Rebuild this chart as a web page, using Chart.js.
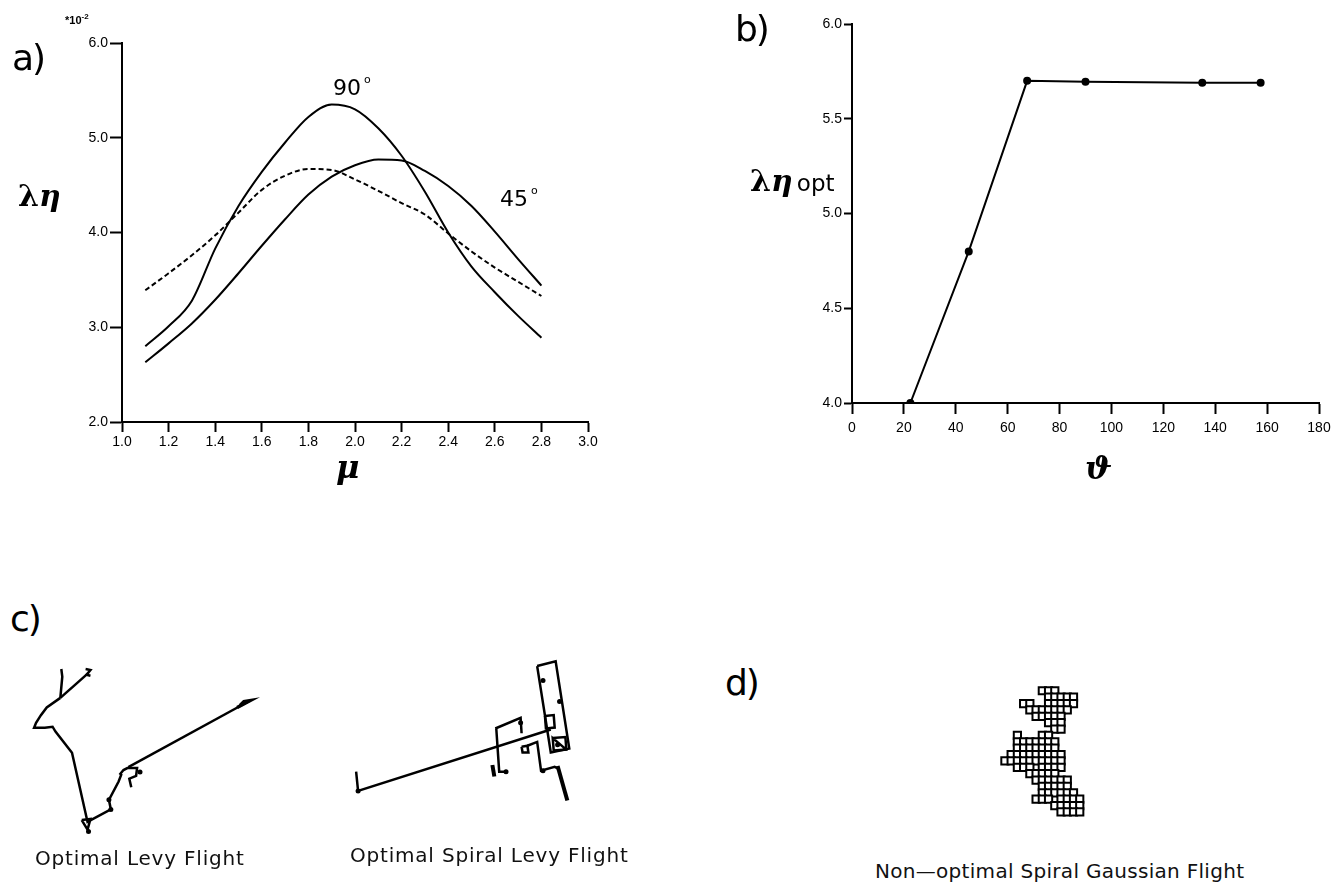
<!DOCTYPE html>
<html>
<head>
<meta charset="utf-8">
<script src="https://cdn.jsdelivr.net/npm/chart.js@4.4.1/dist/chart.umd.min.js"></script>
<style>
  html, body { margin: 0; padding: 0; background: #fff; }
  #page { position: relative; width: 1344px; height: 887px; overflow: hidden; background: #fff; }
  canvas { position: absolute; }
  .txt { position: absolute; line-height: 1; white-space: nowrap; color: #000; }
  .panel { font-family: 'DejaVu Sans', sans-serif; font-size: 36px; letter-spacing: -2px; }
  .greek { font-family: 'DejaVu Serif', serif; font-weight: bold; font-size: 30px; }
  .greek i { font-style: italic; }
  .axsym { font-family: 'DejaVu Serif', serif; font-weight: bold; font-style: italic; font-size: 32px; }
  .angle { font-family: 'DejaVu Sans', sans-serif; font-size: 22px; }
  .angle sup { font-size: 11px; vertical-align: 12px; margin-left: 3px; }
  .caption { font-family: 'DejaVu Sans', sans-serif; font-size: 20px; letter-spacing: 0.8px; color: #111; }
</style>
</head>
<body>
<div id="page">
  <canvas id="chartA" width="620" height="470" style="left:0;top:0"></canvas>
  <canvas id="chartB" width="664" height="450" style="left:680px;top:0"></canvas>
  <canvas id="chartLevy" width="280" height="210" style="left:0;top:640px"></canvas>
  <canvas id="chartSpiral" width="300" height="200" style="left:320px;top:640px"></canvas>
  <canvas id="chartGauss" width="130" height="160" style="left:980px;top:670px"></canvas>

  <div class="txt panel" style="left:12px;top:40px">a)</div>
  <div class="txt" style="left:65px;top:12px;font:bold 11px 'Liberation Sans',sans-serif">*10<sup style="font-size:8px">-2</sup></div>
  <div class="txt greek" style="left:18px;top:181px">λ<i>η</i></div>
  <div class="txt axsym" style="left:336px;top:451px">μ</div>
  <div class="txt angle" style="left:333px;top:74px">90<sup>o</sup></div>
  <div class="txt angle" style="left:500px;top:185px">45<sup>o</sup></div>

  <div class="txt panel" style="left:735px;top:11px">b)</div>
  <div class="txt greek" style="left:750px;top:166px">λ<i>η</i><span style="font:23px 'DejaVu Sans',sans-serif;margin-left:4px">opt</span></div>
  <div class="txt axsym" style="left:1085px;top:452px">ϑ</div>

  <div class="txt panel" style="left:10px;top:601px">c)</div>
  <div class="txt panel" style="left:725px;top:665px">d)</div>
  <div class="txt caption" style="left:35px;top:848px">Optimal Levy Flight</div>
  <div class="txt caption" style="left:350px;top:845px">Optimal Spiral Levy Flight</div>
  <div class="txt caption" style="left:875px;top:861px;letter-spacing:0.3px">Non—optimal Spiral Gaussian Flight</div>
</div>

<script>
// panel a: efficiency vs Levy exponent
const MU = [1.1, 1.2, 1.3, 1.4, 1.5, 1.6, 1.7, 1.8, 1.9, 2.0, 2.1, 2.2, 2.3, 2.4, 2.5, 2.6, 2.7, 2.8];
const ETA_90 = [2.80, 3.01, 3.28, 3.83, 4.28, 4.64, 4.95, 5.22, 5.35, 5.30, 5.10, 4.81, 4.43, 4.00, 3.64, 3.37, 3.12, 2.89];
const ETA_45 = [2.63, 2.83, 3.04, 3.29, 3.57, 3.86, 4.14, 4.40, 4.59, 4.71, 4.77, 4.76, 4.65, 4.49, 4.28, 4.01, 3.72, 3.44];
const ETA_DASHED = [3.39, 3.57, 3.76, 3.97, 4.21, 4.45, 4.60, 4.67, 4.66, 4.56, 4.44, 4.31, 4.19, 3.99, 3.80, 3.63, 3.48, 3.33];

// panel b: optimal efficiency vs turning angle
const THETA = [22.5, 45, 67.5, 90, 135, 157.5];
const ETA_OPT = [4.00, 4.80, 5.70, 5.695, 5.69, 5.69];

// panel c: sample trajectories (figure units)
const LEVY_TAIL = [[59, 666], [60, 674], [58, 696]];
const LEVY_BRANCH = [[58, 696], [87, 670]];
const LEVY_KNOT = [[84, 666], [89, 667], [85, 672], [89, 673]];
const LEVY_MAIN = [[58, 696], [44, 706], [38, 714], [33, 722], [31, 727], [42, 727], [50, 726], [53, 731],
  [70, 753], [86, 825], [110, 812], [108, 802], [118, 783], [121, 775]];
const LEVY_LOOP = [[119, 776], [123, 771], [127, 769], [137, 769], [136, 777], [129, 780], [131, 789]];
const LEVY_LONG = [[128, 768], [253, 699]];
const LEVY_END = [[240, 706], [253, 699], [247, 700], [243, 704]];
const LEVY_TRI = [[80, 823], [89, 822], [86, 833], [80, 823]];
const LEVY_DOTS = [[110, 812], [108, 802], [140, 773], [87, 835]];

const SPIRAL_LONG = [[353, 773], [355, 793], [553, 729]];
const SPIRAL_RECT = [[539, 663], [558, 658], [572, 749], [553, 753], [539, 663]];
const SPIRAL_LEFT = [[496, 728], [522, 717], [523, 733]];
const SPIRAL_DROP = [[497, 728], [500, 773], [507, 773]];
const SPIRAL_SQUARE = [[523, 747], [529, 746], [530, 753], [524, 753], [523, 747]];
const SPIRAL_STEP = [[529, 746], [539, 742], [543, 772], [557, 768], [561, 770]];
const SPIRAL_INNER = [[547, 715], [556, 714], [557, 727], [548, 728], [547, 715]];
const SPIRAL_BLOCK = [[555, 738], [568, 737], [569, 750], [556, 751], [555, 738], [569, 750]];
const SPIRAL_BAR = [[560, 767], [570, 803]];
const SPIRAL_STUBS = [[493, 766], [495, 778]];
const SPIRAL_DOTS = [[355, 793], [507, 773], [545, 772], [545, 678], [562, 700], [560, 745], [522, 722]];

// panel d: lattice cells visited, listed row by row (columns per row)
const GAUSS_ROWS = [
  [6, 7, 8],
  [7, 8, 9, 10, 11],
  [3, 4, 7, 8, 9, 10, 11],
  [4, 5, 6, 7, 8, 9, 10],
  [5, 6, 7, 8, 9],
  [7, 8, 9],
  [8, 9],
  [2, 6, 7],
  [2, 3, 4, 5, 6, 7, 8],
  [2, 3, 4, 5, 6, 7, 8],
  [1, 2, 3, 4, 5, 6, 7, 8, 9],
  [0, 1, 2, 3, 4, 5, 6, 7, 8, 9],
  [2, 3, 4, 6, 7, 8, 9],
  [4, 5, 6, 7, 8],
  [5, 6, 7, 8, 9, 10],
  [6, 7, 8, 9, 10],
  [6, 7, 8, 9, 10, 11],
  [5, 6, 7, 9, 10, 11, 12],
  [8, 9, 10, 11, 12],
  [9, 10, 11, 12]
];

Chart.defaults.animation = false;
Chart.defaults.events = [];
Chart.defaults.plugins.legend.display = false;
Chart.defaults.plugins.tooltip.enabled = false;
Chart.defaults.color = '#000';

const tickFont = { family: "'Liberation Sans', Arial, sans-serif", size: 14 };

function axis(min, max, step, tickLength, fmt, fit) {
  return {
    type: 'linear',
    min: min,
    max: max,
    afterFit: fit,
    grid: { drawOnChartArea: false, drawTicks: true, tickLength: tickLength, tickWidth: 2, tickColor: '#000' },
    border: { display: true, color: '#000', width: 2 },
    ticks: { stepSize: step, font: tickFont, color: '#000', padding: 2, maxRotation: 0, autoSkip: false, callback: fmt }
  };
}

const toXY = pts => pts.map(p => ({ x: p[0], y: p[1] }));

function curve(ys, dash) {
  return {
    data: MU.map((m, i) => ({ x: m, y: ys[i] })),
    borderColor: '#000',
    borderWidth: 2,
    borderDash: dash || [],
    pointRadius: 0,
    cubicInterpolationMode: 'monotone',
    fill: false
  };
}

// a) three efficiency curves
new Chart(document.getElementById('chartA'), {
  type: 'line',
  data: { datasets: [curve(ETA_90), curve(ETA_45), curve(ETA_DASHED, [5, 3])] },
  options: {
    responsive: false,
    layout: { padding: { left: 72, top: 43, right: 32, bottom: 18 } },
    scales: {
      x: axis(1, 3, 0.2, 10, v => v.toFixed(1), s => { s.height = 30; }),
      y: axis(2, 6, 1, 12, v => v.toFixed(1), s => { s.width = 50; })
    }
  }
});

// b) optimum vs angle
const axB = axis(0, 180, 20, 11, v => String(v), s => { s.height = 30; });
axB.ticks.padding = 6;
new Chart(document.getElementById('chartB'), {
  type: 'line',
  data: {
    datasets: [{
      data: THETA.map((t, i) => ({ x: t, y: ETA_OPT[i] })),
      borderColor: '#000',
      borderWidth: 2,
      pointRadius: 3,
      pointBackgroundColor: '#000',
      pointBorderColor: '#000',
      tension: 0,
      fill: false
    }]
  },
  options: {
    responsive: false,
    layout: { padding: { left: 132, top: 24, right: 25, bottom: 17 } },
    scales: {
      x: axB,
      y: axis(4, 6, 0.5, 8, v => v.toFixed(1), s => { s.width = 40; })
    }
  }
});

function pathSet(pts, width) {
  return { data: toXY(pts), borderColor: '#000', borderWidth: width || 2.5, pointRadius: 0, tension: 0, fill: false };
}

function dotSet(pts, r) {
  return { data: toXY(pts), showLine: false, pointRadius: r || 2.5, pointBackgroundColor: '#000', pointBorderColor: '#000', borderWidth: 0 };
}

function hiddenScales(x0, x1, y0, y1) {
  return {
    x: { type: 'linear', min: x0, max: x1, display: false },
    y: { type: 'linear', min: y0, max: y1, reverse: true, display: false }
  };
}

// c) Levy flight trajectory
new Chart(document.getElementById('chartLevy'), {
  type: 'line',
  data: {
    datasets: [
      pathSet(LEVY_TAIL), pathSet(LEVY_BRANCH), pathSet(LEVY_KNOT), pathSet(LEVY_MAIN),
      pathSet(LEVY_LOOP), pathSet(LEVY_LONG), pathSet(LEVY_END, 3.5), pathSet(LEVY_TRI),
      dotSet(LEVY_DOTS)
    ]
  },
  options: { responsive: false, layout: { padding: 0 }, scales: hiddenScales(0, 280, 640, 850) }
});

// c) spiral Levy flight trajectory
new Chart(document.getElementById('chartSpiral'), {
  type: 'line',
  data: {
    datasets: [
      pathSet(SPIRAL_LONG), pathSet(SPIRAL_RECT), pathSet(SPIRAL_LEFT), pathSet(SPIRAL_DROP),
      pathSet(SPIRAL_SQUARE), pathSet(SPIRAL_STEP), pathSet(SPIRAL_INNER), pathSet(SPIRAL_BLOCK),
      pathSet(SPIRAL_BAR, 4), pathSet(SPIRAL_STUBS, 4), dotSet(SPIRAL_DOTS)
    ]
  },
  options: { responsive: false, layout: { padding: 0 }, scales: hiddenScales(320, 620, 640, 840) }
});

// d) Gaussian walk on a lattice, one square per visited cell
const gaussCells = [];
GAUSS_ROWS.forEach((cols, row) => cols.forEach(col => gaussCells.push({ x: col, y: row })));
new Chart(document.getElementById('chartGauss'), {
  type: 'scatter',
  data: {
    datasets: [{
      data: gaussCells,
      pointStyle: 'rect',
      pointRadius: 5.1,
      borderWidth: 2,
      pointBorderColor: '#000',
      pointBackgroundColor: '#fff'
    }]
  },
  options: { responsive: false, layout: { padding: 0 }, scales: hiddenScales(-20 / 7, 110 / 7, -15 / 7, 145 / 7) }
});
</script>
</body>
</html>
